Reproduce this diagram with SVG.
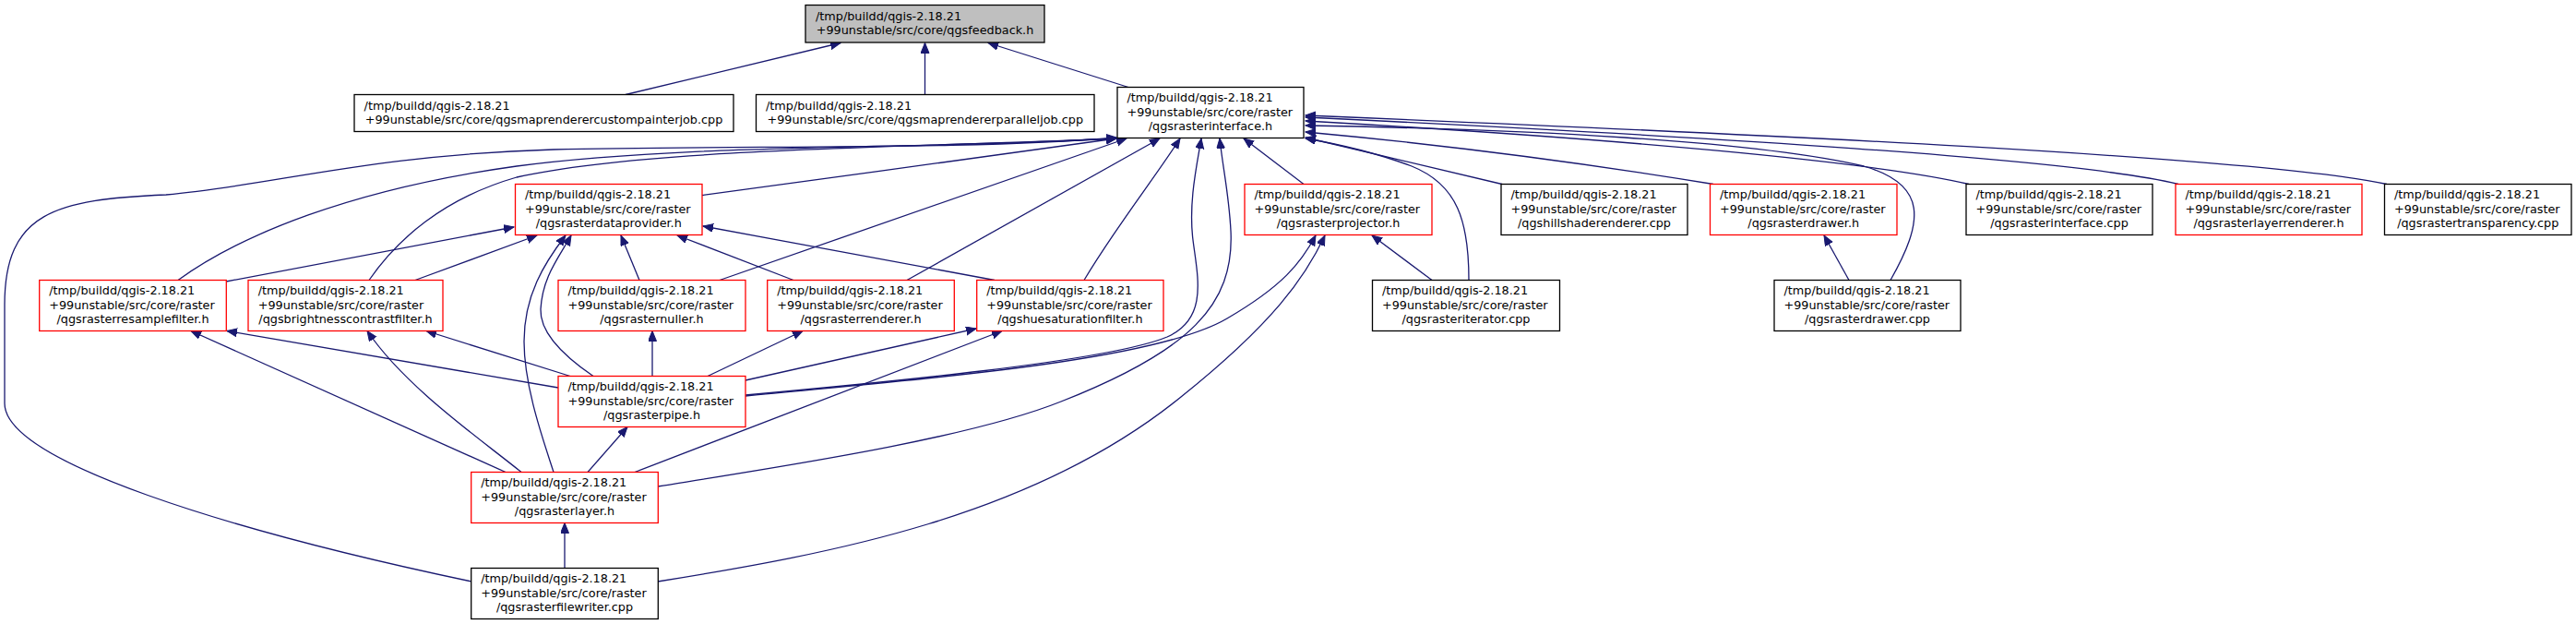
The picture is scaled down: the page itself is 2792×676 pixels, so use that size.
<svg xmlns="http://www.w3.org/2000/svg" width="2792" height="676" viewBox="0 0 2792 676">
<style>
.bg{fill:#ffffff}
.n rect{fill:#ffffff;stroke:#000000;stroke-width:1.3}
.n.red rect{stroke:#ff0000}
.n.root rect{fill:#bfbfbf}
.n text{font-family:"DejaVu Sans","Liberation Sans",sans-serif;font-size:12.8px;fill:#000000}
.n text.c{text-anchor:middle}
#edges path{fill:none;stroke:#191970;stroke-width:1.3;marker-end:url(#arr)}
</style>
<defs>
<marker id="arr" markerUnits="userSpaceOnUse" markerWidth="12" markerHeight="10" refX="11" refY="4.5" orient="auto">
<path d="M0,0 L11,4.5 L0,9 z" fill="#191970" stroke="#191970" stroke-width="1"/>
</marker>
</defs>
<rect class="bg" x="0" y="0" width="2792" height="676"/>
<g id="edges">
<path d="M678,102.5 L911,46.5"/>
<path d="M1002.5,102.5 L1002.5,46.5"/>
<path d="M1223,94.5 L1071,46.5"/>
<path d="M761,211.5 C900,193 1100,165 1210,150"/>
<path d="M193,303.5 C260,255 380,205 560,180 C750,155 1000,162 1210,150"/>
<path d="M400,303.5 C430,260 480,215 560,192 C700,160 1000,160 1210,150"/>
<path d="M511,630 C250,575 5,500 5,437 L5,330 C5,230 60,216 180,211 C300,200 400,168 600,162 C800,157 1050,163 1210,149"/>
<path d="M780,303.5 L1221,150"/>
<path d="M983,303.5 L1257,150"/>
<path d="M1175,303.5 C1210,245 1250,195 1279,150"/>
<path d="M808,428 C950,415 1200,392 1265,365 C1310,345 1298,300 1293,260 C1288,220 1297,180 1302,150"/>
<path d="M713,527 C850,505 1050,475 1150,435 C1290,380 1338,330 1334,250 C1332,210 1325,180 1322,150"/>
<path d="M1413,199.5 L1348,150"/>
<path d="M1628,199.5 L1415,149"/>
<path d="M1857,199.5 C1750,182 1600,160 1415,143"/>
<path d="M2134,199.5 C2030,175 1750,150 1415,131"/>
<path d="M2361,199.5 C2250,172 1850,148 1415,127"/>
<path d="M2587,199.5 C2450,170 1900,145 1415,125"/>
<path d="M1592,303.5 C1592,240 1580,200 1530,180 C1490,165 1450,156 1415,150"/>
<path d="M2049,303.5 C2085,240 2090,200 2020,180 C1900,152 1650,140 1415,136"/>
<path d="M245,305 L557,246"/>
<path d="M450,303.5 L582,255"/>
<path d="M693,303.5 L673,255"/>
<path d="M860,303.5 L734,255"/>
<path d="M1078,303.5 L762,245"/>
<path d="M643,407.5 C610,385 585,360 586,335 C588,300 605,280 619,255"/>
<path d="M600,511.5 C590,480 568,420 568,370 C568,320 590,285 613,255"/>
<path d="M808,429 C1000,410 1250,392 1330,345 C1390,310 1410,285 1426,255"/>
<path d="M713,630 C900,600 1120,560 1280,430 C1380,350 1415,300 1436,255"/>
<path d="M1552,303.5 L1487,255"/>
<path d="M2004,303.5 L1977,255"/>
<path d="M605,420 L246,358.5"/>
<path d="M548,511.5 L207,358.5"/>
<path d="M618,407.5 L462,358.5"/>
<path d="M565,511.5 C520,475 440,420 398,358.5"/>
<path d="M707,407.5 L707,358.5"/>
<path d="M767,407.5 L870,358.5"/>
<path d="M808,412 L1058,356"/>
<path d="M688,511.5 L1086,358.5"/>
<path d="M637,511.5 L680,462.5"/>
<path d="M612,615.5 L612,566.5"/>
</g>
<g id="n_feedback" class="n root"><rect x="873" y="5.5" width="259" height="40.5"/><text x="884" y="21.7">/tmp/buildd/qgis-2.18.21</text><text class="c" x="1002.5" y="37.2">+99unstable/src/core/qgsfeedback.h</text></g>
<g id="n_custompainterjob" class="n"><rect x="384" y="102.5" width="411" height="40"/><text x="394.6" y="118.5">/tmp/buildd/qgis-2.18.21</text><text class="c" x="589.5" y="134">+99unstable/src/core/qgsmaprenderercustompainterjob.cpp</text></g>
<g id="n_paralleljob" class="n"><rect x="819.5" y="102.5" width="366.5" height="40"/><text x="830" y="118.5">/tmp/buildd/qgis-2.18.21</text><text class="c" x="1002.75" y="134">+99unstable/src/core/qgsmaprendererparalleljob.cpp</text></g>
<g id="n_interface_h" class="n"><rect x="1211" y="94.5" width="202" height="55"/><text x="1221.5" y="110.2">/tmp/buildd/qgis-2.18.21</text><text x="1221.5" y="125.7">+99unstable/src/core/raster</text><text class="c" x="1312" y="141.2">/qgsrasterinterface.h</text></g>
<g id="n_dataprovider" class="n red"><rect x="558.5" y="199.5" width="202.5" height="55"/><text x="569" y="215.2">/tmp/buildd/qgis-2.18.21</text><text x="569" y="230.7">+99unstable/src/core/raster</text><text class="c" x="659.75" y="246.2">/qgsrasterdataprovider.h</text></g>
<g id="n_projector" class="n red"><rect x="1349" y="199.5" width="203" height="55"/><text x="1359.5" y="215.2">/tmp/buildd/qgis-2.18.21</text><text x="1359.5" y="230.7">+99unstable/src/core/raster</text><text class="c" x="1450.5" y="246.2">/qgsrasterprojector.h</text></g>
<g id="n_hillshade" class="n"><rect x="1627" y="199.5" width="202" height="55"/><text x="1637.5" y="215.2">/tmp/buildd/qgis-2.18.21</text><text x="1637.5" y="230.7">+99unstable/src/core/raster</text><text class="c" x="1728" y="246.2">/qgshillshaderenderer.cpp</text></g>
<g id="n_drawer_h" class="n red"><rect x="1853.5" y="199.5" width="202.5" height="55"/><text x="1864" y="215.2">/tmp/buildd/qgis-2.18.21</text><text x="1864" y="230.7">+99unstable/src/core/raster</text><text class="c" x="1954.75" y="246.2">/qgsrasterdrawer.h</text></g>
<g id="n_interface_cpp" class="n"><rect x="2131" y="199.5" width="202" height="55"/><text x="2141.5" y="215.2">/tmp/buildd/qgis-2.18.21</text><text x="2141.5" y="230.7">+99unstable/src/core/raster</text><text class="c" x="2232" y="246.2">/qgsrasterinterface.cpp</text></g>
<g id="n_layerrenderer" class="n red"><rect x="2358" y="199.5" width="202" height="55"/><text x="2368.5" y="215.2">/tmp/buildd/qgis-2.18.21</text><text x="2368.5" y="230.7">+99unstable/src/core/raster</text><text class="c" x="2459" y="246.2">/qgsrasterlayerrenderer.h</text></g>
<g id="n_transparency" class="n"><rect x="2584.5" y="199.5" width="202.5" height="55"/><text x="2595" y="215.2">/tmp/buildd/qgis-2.18.21</text><text x="2595" y="230.7">+99unstable/src/core/raster</text><text class="c" x="2685.75" y="246.2">/qgsrastertransparency.cpp</text></g>
<g id="n_resample" class="n red"><rect x="42.7" y="303.5" width="202.6" height="55"/><text x="53.2" y="319.2">/tmp/buildd/qgis-2.18.21</text><text x="53.2" y="334.7">+99unstable/src/core/raster</text><text class="c" x="144" y="350.2">/qgsrasterresamplefilter.h</text></g>
<g id="n_brightness" class="n red"><rect x="269" y="303.5" width="211" height="55"/><text x="279.7" y="319.2">/tmp/buildd/qgis-2.18.21</text><text x="279.7" y="334.7">+99unstable/src/core/raster</text><text class="c" x="374.5" y="350.2">/qgsbrightnesscontrastfilter.h</text></g>
<g id="n_nuller" class="n red"><rect x="605" y="303.5" width="203" height="55"/><text x="615.5" y="319.2">/tmp/buildd/qgis-2.18.21</text><text x="615.5" y="334.7">+99unstable/src/core/raster</text><text class="c" x="706.5" y="350.2">/qgsrasternuller.h</text></g>
<g id="n_renderer" class="n red"><rect x="831.7" y="303.5" width="202.6" height="55"/><text x="842.2" y="319.2">/tmp/buildd/qgis-2.18.21</text><text x="842.2" y="334.7">+99unstable/src/core/raster</text><text class="c" x="933" y="350.2">/qgsrasterrenderer.h</text></g>
<g id="n_huesaturation" class="n red"><rect x="1058.7" y="303.5" width="202.3" height="55"/><text x="1069.2" y="319.2">/tmp/buildd/qgis-2.18.21</text><text x="1069.2" y="334.7">+99unstable/src/core/raster</text><text class="c" x="1159.85" y="350.2">/qgshuesaturationfilter.h</text></g>
<g id="n_iterator" class="n"><rect x="1487.5" y="303.5" width="203" height="55"/><text x="1498" y="319.2">/tmp/buildd/qgis-2.18.21</text><text x="1498" y="334.7">+99unstable/src/core/raster</text><text class="c" x="1589" y="350.2">/qgsrasteriterator.cpp</text></g>
<g id="n_drawer_cpp" class="n"><rect x="1923" y="303.5" width="202" height="55"/><text x="1933.5" y="319.2">/tmp/buildd/qgis-2.18.21</text><text x="1933.5" y="334.7">+99unstable/src/core/raster</text><text class="c" x="2024" y="350.2">/qgsrasterdrawer.cpp</text></g>
<g id="n_pipe" class="n red"><rect x="605" y="407.5" width="203" height="55"/><text x="615.5" y="423.2">/tmp/buildd/qgis-2.18.21</text><text x="615.5" y="438.7">+99unstable/src/core/raster</text><text class="c" x="706.5" y="454.2">/qgsrasterpipe.h</text></g>
<g id="n_layer" class="n red"><rect x="510.7" y="511.5" width="202.6" height="55"/><text x="521.2" y="527.2">/tmp/buildd/qgis-2.18.21</text><text x="521.2" y="542.7">+99unstable/src/core/raster</text><text class="c" x="612" y="558.2">/qgsrasterlayer.h</text></g>
<g id="n_filewriter" class="n"><rect x="510.7" y="615.5" width="202.6" height="55"/><text x="521.2" y="631.2">/tmp/buildd/qgis-2.18.21</text><text x="521.2" y="646.7">+99unstable/src/core/raster</text><text class="c" x="612" y="662.2">/qgsrasterfilewriter.cpp</text></g>
</svg>
